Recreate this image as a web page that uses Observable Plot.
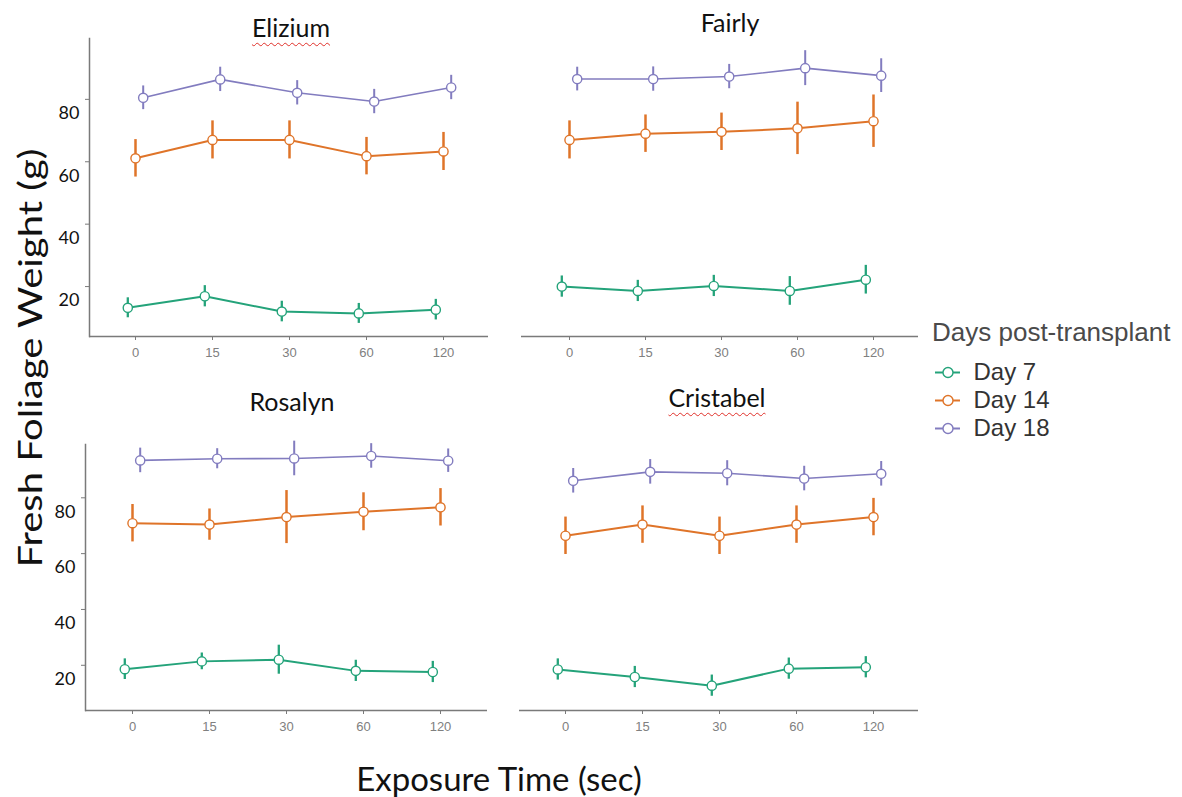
<!DOCTYPE html>
<html>
<head>
<meta charset="utf-8">
<script src="https://cdn.jsdelivr.net/npm/d3@7"></script>
<script src="https://cdn.jsdelivr.net/npm/@observablehq/plot@0.6"></script>
<style>
  html, body { margin: 0; padding: 0; background: #fff; }
  #root { position: relative; width: 1182px; height: 797px; overflow: hidden; background: #fff; }
  #root > svg { position: absolute; }
  .ptitle { position: absolute; font-family: Lato, "Open Sans", sans-serif; font-size: 25px; line-height: 1; color: #111; transform: translateX(-50%); white-space: nowrap; }
  .spell { text-decoration: underline wavy #e0302a; text-decoration-thickness: 1px; text-underline-offset: 5px; }
  #ylab { position: absolute; left: 30px; top: 358px; transform: translate(-50%, -50%) rotate(-90deg) scaleX(1.25); font-family: Lato, "Open Sans", sans-serif; font-size: 32px; white-space: nowrap; color: #111; line-height: 1; }
  #xlab { position: absolute; left: 499px; top: 779px; transform: translate(-50%, -50%) scaleX(1.03); font-family: Lato, "Open Sans", sans-serif; font-size: 32px; white-space: nowrap; color: #111; line-height: 1; }
  #legtitle { position: absolute; left: 932px; top: 332px; transform: translateY(-50%); font-family: "Liberation Sans", Arial, sans-serif; font-size: 26px; color: #4a4a4a; white-space: nowrap; line-height: 1; }
</style>
</head>
<body>
<div id="root"></div>
<script>
// ---- data ----
const times = ["0", "15", "30", "60", "120"];
const days = ["Day 7", "Day 14", "Day 18"];
const dayColors = ["#24a37a", "#df7429", "#827cbf"];
const cultivars = ["Elizium", "Fairly", "Rosalyn", "Cristabel"];

// means per series (Day 7, Day 14, Day 18) across exposure times
const eliziumMeans = [
  [13.2, 16.9, 12.0, 11.4, 12.6],
  [61.1, 67.0, 67.0, 61.8, 63.3],
  [80.5, 86.4, 82.1, 79.3, 83.8]
];
const eliziumErrors = [
  [3.2, 3.4, 3.3, 3.2, 3.3],
  [6.0, 6.1, 6.1, 6.0, 6.1],
  [3.8, 3.9, 3.9, 3.9, 3.9]
];
const fairlyMeans = [
  [20.0, 18.6, 20.2, 18.6, 22.2],
  [67.0, 69.0, 69.6, 70.7, 73.0],
  [86.5, 86.5, 87.3, 90.0, 87.6]
];
const fairlyErrors = [
  [3.4, 3.4, 3.4, 4.6, 4.6],
  [6.1, 6.0, 6.0, 8.4, 8.4],
  [3.8, 3.9, 3.9, 5.6, 5.4]
];
const rosalynMeans = [
  [18.6, 21.4, 22.0, 18.0, 17.6],
  [70.9, 70.4, 73.1, 75.0, 76.6],
  [93.4, 94.0, 94.1, 95.0, 93.3]
];
const rosalynErrors = [
  [3.7, 3.0, 5.2, 3.8, 3.8],
  [6.7, 5.6, 9.5, 6.8, 6.7],
  [4.4, 3.6, 6.2, 4.4, 4.2]
];
const cristabelMeans = [
  [18.5, 15.8, 12.7, 18.8, 19.3],
  [66.4, 70.4, 66.4, 70.4, 73.1],
  [86.1, 89.3, 88.8, 86.9, 88.6]
];
const cristabelErrors = [
  [3.8, 3.8, 3.8, 3.8, 3.8],
  [6.7, 6.7, 6.7, 6.7, 6.7],
  [4.4, 4.4, 4.5, 4.4, 4.4]
];
const yTicks = [20, 40, 60, 80];

// ---- drawing ----
const root = document.getElementById("root");
const dodge = [-7.7, 0, 7.7];
const lineW = [2, 2, 1.6];
const errW = [2.3, 2.5, 2];
const axisGray = "#7a7a7a";

function panel(means, errors, cfg) {
  const marks = [];
  // axis lines
  marks.push(Plot.ruleY([cfg.yDomain[0]], {stroke: axisGray, strokeWidth: 1.5}));
  if (cfg.showY) {
    marks.push(Plot.frame({anchor: "left", stroke: axisGray, strokeWidth: 1.5}));
    marks.push(Plot.axisY({ticks: yTicks, tickSize: 4, stroke: axisGray, strokeWidth: 1, fill: "none", label: null}));
    marks.push(Plot.axisY({ticks: yTicks, tickSize: 0, tickPadding: 10, dy: 14, label: null,
      fontSize: 18, fill: "#111", fontFamily: "Lato, 'Open Sans', sans-serif"}));
  }
  marks.push(Plot.axisX({tickSize: 4, tickPadding: 7, fontSize: 13, stroke: axisGray, fill: "#808080",
    fontFamily: "'Liberation Sans', Arial, sans-serif", label: null}));
  days.forEach((day, s) => {
    const rows = times.map((t, i) => ({
      time: t, day,
      mean: means[s][i],
      lo: means[s][i] - errors[s][i],
      hi: means[s][i] + errors[s][i]
    }));
    marks.push(Plot.ruleX(rows, {x: "time", y1: "lo", y2: "hi", stroke: dayColors[s], strokeWidth: errW[s], dx: dodge[s]}));
    marks.push(Plot.line(rows, {x: "time", y: "mean", stroke: dayColors[s], strokeWidth: lineW[s], dx: dodge[s]}));
    marks.push(Plot.dot(rows, {x: "time", y: "mean", r: 4.6, fill: "white", stroke: dayColors[s], strokeWidth: 1.4, dx: dodge[s]}));
  });
  const svg = Plot.plot({
    width: cfg.width, height: cfg.height,
    marginTop: cfg.mt, marginBottom: cfg.mb, marginLeft: cfg.ml, marginRight: cfg.mr,
    x: {type: "point", domain: times, range: cfg.xRange, padding: 0, axis: null},
    y: {type: "linear", domain: cfg.yDomain, axis: null},
    style: {background: "transparent", overflow: "visible"},
    marks
  });
  svg.style.left = cfg.left + "px";
  svg.style.top = cfg.top + "px";
  root.appendChild(svg);
}

panel(eliziumMeans, eliziumErrors, {left: 0, top: 0, width: 500, height: 366, mt: 38, mb: 30, ml: 89, mr: 12,
  xRange: [134, 443], yDomain: [4, 99.5], showY: true});
panel(fairlyMeans, fairlyErrors, {left: 500, top: 0, width: 430, height: 366, mt: 38, mb: 30, ml: 21, mr: 12,
  xRange: [67.3, 375], yDomain: [4, 99.5], showY: false});
panel(rosalynMeans, rosalynErrors, {left: 0, top: 400, width: 500, height: 340, mt: 44, mb: 30, ml: 85, mr: 13,
  xRange: [132.3, 440.3], yDomain: [3.8, 99.1], showY: true});
panel(cristabelMeans, cristabelErrors, {left: 500, top: 400, width: 430, height: 340, mt: 44, mb: 30, ml: 19, mr: 12,
  xRange: [64.7, 372.7], yDomain: [3.8, 99.1], showY: false});

// panel titles (baseline-positioned)
const titlePos = [
  {x: 291, base: 37, spell: true},
  {x: 730, base: 32, spell: false},
  {x: 292, base: 411, spell: false},
  {x: 717, base: 407, spell: true}
];
cultivars.forEach((name, i) => {
  const d = document.createElement("div");
  d.className = "ptitle";
  const span = document.createElement("span");
  span.textContent = name;
  if (titlePos[i].spell) span.className = "spell";
  d.appendChild(span);
  d.style.left = titlePos[i].x + "px";
  d.style.top = (titlePos[i].base - 22.2) + "px";
  root.appendChild(d);
});

// axis labels
const yl = document.createElement("div"); yl.id = "ylab"; yl.textContent = "Fresh Foliage Weight (g)"; root.appendChild(yl);
const xl = document.createElement("div"); xl.id = "xlab"; xl.textContent = "Exposure Time (sec)"; root.appendChild(xl);

// legend
const lt = document.createElement("div"); lt.id = "legtitle"; lt.textContent = "Days post-transplant"; root.appendChild(lt);
const leg = Plot.plot({
  width: 250, height: 90, margin: 0,
  x: {domain: [0, 1], range: [5, 30], axis: null},
  y: {type: "point", domain: days, range: [17, 73], padding: 0, axis: null},
  color: {domain: days, range: dayColors},
  style: {background: "transparent", overflow: "visible"},
  marks: [
    Plot.ruleY(days, {y: d => d, x1: 0, x2: 1, stroke: d => d, strokeWidth: 2}),
    Plot.dot(days, {x: 0.5, y: d => d, r: 5, fill: "white", stroke: d => d, strokeWidth: 1.4}),
    Plot.text(days, {x: 1, y: d => d, text: d => d, dx: 13, textAnchor: "start", fontSize: 24,
      fill: "#333", fontFamily: "'Liberation Sans', Arial, sans-serif"})
  ]
});
leg.style.left = "930px";
leg.style.top = "355px";
root.appendChild(leg);
</script>
</body>
</html>
